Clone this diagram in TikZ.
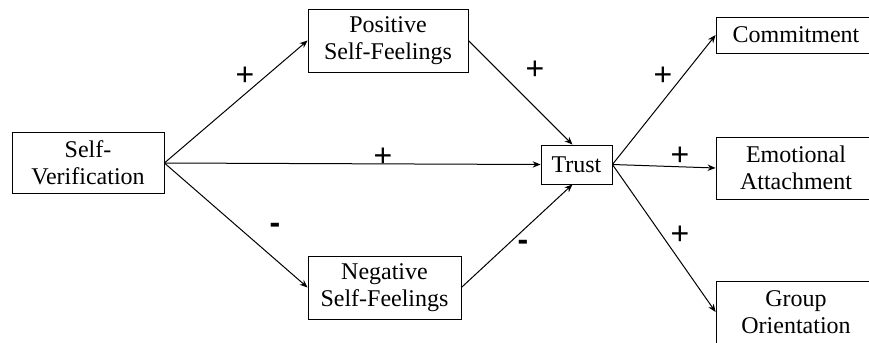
\documentclass[tikz,border=0pt]{standalone}
\usepackage{fontspec}
\setmainfont{Liberation Serif}
\setsansfont{Liberation Sans}
\usetikzlibrary{arrows.meta}
\tikzstyle{box}=[draw,rectangle,align=center,inner sep=0pt,
font=\fontsize{12}{13.5}\selectfont]
\tikzstyle{sign}=[font=\sffamily\fontsize{16}{18}\selectfont]
\tikzstyle{link}=[-{Stealth[length=4pt,width=3.2pt]},line width=0.5pt]

\begin{document}
\begin{tikzpicture}[x=0.5pt, y=-0.5pt]
  \useasboundingbox (0,0) rectangle (869,343);

  \node[box, minimum width=76pt, minimum height=30.5pt] (sv) at (88,163) {Self-\\Verification};
  \node[box, minimum width=80pt, minimum height=31.5pt] (pos) at (388,40.5) {Positive\\Self-Feelings};
  \node[box, minimum width=76.5pt, minimum height=31.5pt] (neg) at (384.5,287.5) {Negative\\Self-Feelings};
  \node[box, minimum width=35.5pt, minimum height=19.5pt] (trust) at (576.5,164.5) {Trust};
  \node[box, minimum width=80pt, minimum height=18pt] (com) at (796,35) {Commitment};
  \node[box, minimum width=80pt, minimum height=31pt] (emo) at (796,168) {Emotional\\Attachment};
  \node[box, minimum width=80pt, minimum height=31pt] (grp) at (796,312) {Group\\Orientation};

  \draw[link] (sv.east) -- (pos.west);
  \draw[link] (sv.east) -- (trust.west);
  \draw[link] (sv.east) -- (neg.west);
  \draw[link] (pos.east) -- ([xshift=-2pt]trust.north);
  \draw[link] (neg.east) -- ([xshift=-2pt]trust.south);
  \draw[link] (trust.east) -- (com.west);
  \draw[link] (trust.east) -- (emo.west);
  \draw[link] (trust.east) -- (grp.west);

  \node[sign] (s1) at (245,76) {+};
  \node[sign] (s2) at (383,157) {+};
  \node[sign] (s3) at (275,228) {\textbf{-}};
  \node[sign] (s4) at (535,70) {+};
  \node[sign] (s5) at (523,245) {\textbf{-}};
  \node[sign] (s6) at (663,76) {+};
  \node[sign] (s7) at (680,156) {+};
  \node[sign] (s8) at (680,235) {+};
\end{tikzpicture}
\end{document}
